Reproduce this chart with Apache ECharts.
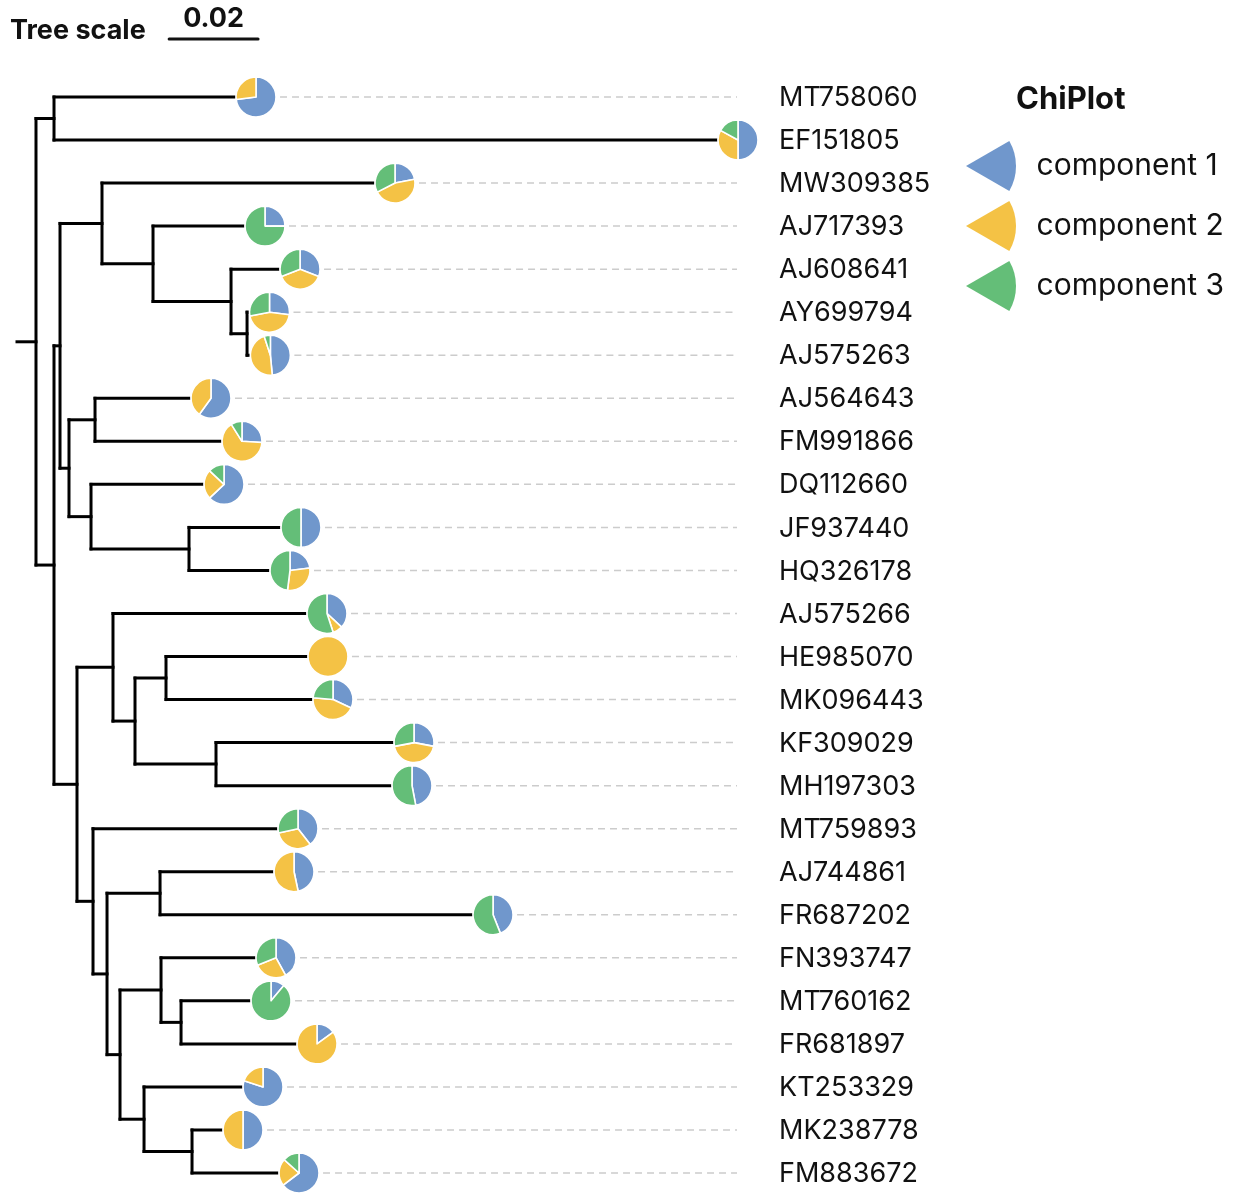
<!DOCTYPE html>
<html>
<head>
<meta charset="utf-8">
<script src="https://cdn.jsdelivr.net/npm/echarts@6/dist/echarts.min.js"></script>
<style>
html,body{margin:0;padding:0;background:#fff;}
#chart{width:1234px;height:1202px;}
</style>
</head>
<body>
<div id="chart"></div>
<script>
// ---------------- DATA ----------------
// Tree topology with branch lengths (substitutions per site)
const TREE_NEWICK = "((MT758060:0.04047,EF151805:0.14883):0.00405,(((MW309385:0.06093,(AJ717393:0.02023,(AJ608641:0.01057,(AY699794:0.0001,AJ575263:0.0003):0.0036):0.01754):0.01147):0.00944,((AJ564643:0.02113,FM991866:0.0281):0.00585,(DQ112660:0.02496,(JF937440:0.02023,HQ326178:0.01776):0.02203):0.00495):0.00202):0.00135,((AJ575266:0.04317,((HE985070:0.03147,MK096443:0.0326):0.00697,(KF309029:0.03957,MH197303:0.03912):0.01821):0.00495):0.00809,(MT759893:0.04114,((AJ744861:0.02518,FR687202:0.06992):0.01192,((FN393747:0.02091,(MT760162:0.01529,FR681897:0.02563):0.0045):0.00922,(KT253329:0.02181,(MK238778:0.00652,FM883672:0.01911):0.01079):0.0054):0.00292):0.00315):0.0036):0.00517):0.00405):0.00427;";

const LEAF_NAMES = ["MT758060","EF151805","MW309385","AJ717393","AJ608641","AY699794","AJ575263",
  "AJ564643","FM991866","DQ112660","JF937440","HQ326178","AJ575266","HE985070","MK096443",
  "KF309029","MH197303","MT759893","AJ744861","FR687202","FN393747","MT760162","FR681897",
  "KT253329","MK238778","FM883672"];

const COMPONENT_1 = [0.73,0.50,0.22,0.25,0.31,0.27,0.485,0.60,0.26,0.63,0.50,0.23,0.37,0.00,0.32,0.28,0.47,0.395,0.467,0.44,0.42,0.11,0.15,0.80,0.50,0.646];
const COMPONENT_2 = [0.27,0.33,0.455,0.00,0.38,0.45,0.465,0.40,0.65,0.24,0.00,0.29,0.08,1.00,0.445,0.44,0.00,0.32,0.533,0.00,0.27,0.00,0.85,0.20,0.50,0.22];
const COMPONENT_3 = [0.00,0.17,0.325,0.75,0.31,0.28,0.05,0.00,0.09,0.13,0.50,0.48,0.55,0.00,0.235,0.28,0.53,0.285,0.00,0.56,0.31,0.89,0.00,0.00,0.00,0.134];

const SERIES_NAMES = ["component 1","component 2","component 3"];
const LEGEND_TITLE = "ChiPlot";
const SCALE_TITLE = "Tree scale";
const SCALE_LENGTH = 0.02;
const SCALE_LABEL = "0.02";

// ---------------- STYLE ----------------
const COLORS = ["#7097CC","#F4C245","#64BE78"];
const FONT = "Inter, 'Noto Sans', 'Liberation Sans', sans-serif";
const PIE_R = 20;
const PIE_OFFSET = 22;

// ---------------- TREE PARSE / LAYOUT ----------------
function parseNewick(s){
  let i = 0;
  function node(){
    const n = {children:[], name:'', len:0};
    if (s[i] === '('){
      i++;
      n.children.push(node());
      while (s[i] === ','){ i++; n.children.push(node()); }
      i++; // ')'
    }
    let name = '';
    while (i < s.length && !',():;'.includes(s[i])) name += s[i++];
    n.name = name.trim();
    if (s[i] === ':'){
      i++;
      let num = '';
      while (i < s.length && !',();'.includes(s[i])) num += s[i++];
      n.len = parseFloat(num);
    }
    return n;
  }
  return node();
}
const root = parseNewick(TREE_NEWICK);
const tipDepth = new Array(LEAF_NAMES.length).fill(0);
function layout(n, parentDepth){
  n.depth = parentDepth + n.len;
  if (!n.children.length){
    n.y = LEAF_NAMES.indexOf(n.name);
    tipDepth[n.y] = n.depth;
  } else {
    n.children.forEach(c => layout(c, n.depth));
    n.y = (n.children[0].y + n.children[n.children.length-1].y) / 2;
  }
}
layout(root, 0);
const maxDepth = Math.max(...tipDepth);

const segments = [];
segments.push([0, root.y, root.depth, root.y]);
(function walk(n){
  if (!n.children.length) return;
  const c0 = n.children[0], cN = n.children[n.children.length-1];
  segments.push([n.depth, c0.y, n.depth, cN.y]);
  n.children.forEach(c => {
    segments.push([n.depth, c.y, c.depth, c.y]);
    walk(c);
  });
})(root);

const COMPS = [COMPONENT_1, COMPONENT_2, COMPONENT_3];
const leafData = LEAF_NAMES.map((name, i) => [tipDepth[i], i, COMPONENT_1[i], COMPONENT_2[i], COMPONENT_3[i]]);

// ---------------- CHART ----------------
const chart = echarts.init(document.getElementById('chart'), null, {renderer:'canvas'});

function pieSeries(k){
  return {
    type:'custom', name:SERIES_NAMES[k], coordinateSystem:'cartesian2d', clip:false, silent:true,
    itemStyle:{color:COLORS[k]},
    data: leafData,
    encode:{x:0, y:1},
    z: 5 + k,
    renderItem: function(params, api){
      const i = params.dataIndex;
      const c = api.coord([api.value(0), api.value(1)]);
      let total = 0, start = 0;
      for (let j = 0; j < 3; j++){ total += COMPS[j][i]; if (j < k) start += COMPS[j][i]; }
      const v = COMPS[k][i];
      if (v <= 0) return null;
      const a0 = -Math.PI/2 + 2*Math.PI*start/total;
      const a1 = -Math.PI/2 + 2*Math.PI*(start+v)/total;
      return {
        type:'sector',
        shape:{cx:c[0]+PIE_OFFSET, cy:c[1], r0:0, r:PIE_R, startAngle:a0, endAngle:a1, clockwise:true},
        style:{fill:COLORS[k], stroke:'#fff', lineWidth:1.6, lineJoin:'round'}
      };
    }
  };
}

const option = {
  animation:false,
  backgroundColor:'#fff',
  grid:{left:17, top:97, width:1112, height:1076, containLabel:false},
  xAxis:{type:'value', min:0, max:0.25, show:false},
  yAxis:{type:'value', min:0, max:LEAF_NAMES.length-1, inverse:true, show:false},
  title:{
    text:LEGEND_TITLE, left:1016, top:84, padding:0,
    textStyle:{fontFamily:FONT, fontWeight:'bold', fontSize:31, color:'#111'}
  },
  legend:{
    data:SERIES_NAMES, orient:'vertical', left:966, top:141,
    itemWidth:51, itemHeight:50, itemGap:10, padding:0,
    selectedMode:false,
    icon:'path://M0,25 L43.3,0 A50,50 0 0 1 43.3,50 Z',
    textStyle:{fontFamily:FONT, fontSize:30, color:'#111', padding:[0,0,0,15], lineHeight:50}
  },
  series:[
    { // scale bar
      type:'custom', name:'scale', coordinateSystem:'cartesian2d', clip:false, silent:true,
      data:[[0.0342, SCALE_LENGTH]],
      renderItem:function(params, api){
        const x1 = api.coord([api.value(0), 0])[0];
        const x2 = api.coord([api.value(0)+api.value(1), 0])[0];
        return {type:'group', children:[
          {type:'line', shape:{x1:x1, y1:39, x2:x2, y2:39}, style:{stroke:'#111', lineWidth:3, lineCap:'round'}},
          {type:'text', style:{x:(x1+x2)/2, y:19, text:SCALE_LABEL, align:'center', verticalAlign:'middle',
            font:'bold 27px '+FONT, fill:'#111'}},
          {type:'text', style:{x:10, y:31, text:SCALE_TITLE, align:'left', verticalAlign:'middle',
            font:'bold 27px '+FONT, fill:'#111'}}
        ]};
      }
    },
    { // dashed guides
      type:'custom', name:'guides', coordinateSystem:'cartesian2d', clip:false, silent:true,
      data: leafData, encode:{x:0, y:1}, z:1,
      renderItem:function(params, api){
        const c = api.coord([api.value(0), api.value(1)]);
        const xs = c[0] + PIE_OFFSET + PIE_R + 4;
        const xe = api.coord([maxDepth, api.value(1)])[0] + PIE_OFFSET - 1;
        if (xe - xs < 5) return null;
        return {type:'line', shape:{x1:xs, y1:c[1], x2:xe, y2:c[1]},
          style:{stroke:'#cccccc', lineWidth:1.5, lineDash:[7,5]}};
      }
    },
    { // tree branches
      type:'custom', name:'tree', coordinateSystem:'cartesian2d', clip:false, silent:true,
      data: segments, encode:{x:[0,2], y:[1,3]}, z:3,
      renderItem:function(params, api){
        const p1 = api.coord([api.value(0), api.value(1)]);
        const p2 = api.coord([api.value(2), api.value(3)]);
        return {type:'line', shape:{x1:p1[0], y1:p1[1], x2:p2[0], y2:p2[1]},
          style:{stroke:'#000', lineWidth:3, lineCap:'square'}};
      }
    },
    pieSeries(0), pieSeries(1), pieSeries(2),
    { // leaf labels
      type:'custom', name:'labels', coordinateSystem:'cartesian2d', clip:false, silent:true,
      data: leafData, encode:{x:0, y:1}, z:6,
      renderItem:function(params, api){
        const y = api.coord([0, api.value(1)])[1];
        const x = api.coord([maxDepth, 0])[0] + 63;
        return {type:'text', style:{x:x, y:y + 1, text:LEAF_NAMES[params.dataIndex], align:'left', verticalAlign:'middle',
          font:'27px '+FONT, fill:'#111'}};
      }
    }
  ]
};
chart.setOption(option);
</script>
</body>
</html>
